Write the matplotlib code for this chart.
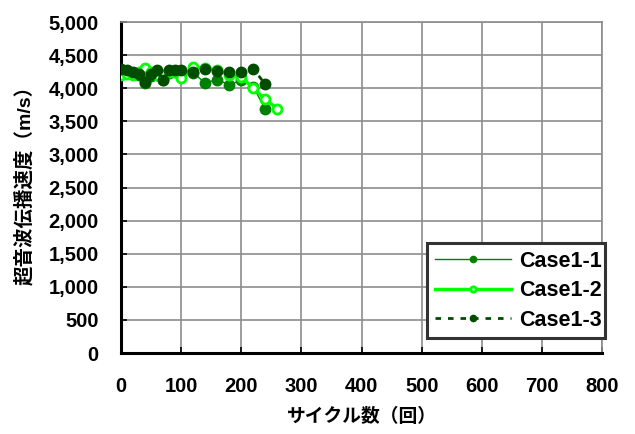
import matplotlib
matplotlib.use("Agg")
import matplotlib.pyplot as plt
from matplotlib.ticker import FuncFormatter, MultipleLocator

plt.rcParams['font.family'] = ['Liberation Sans', 'Noto Sans CJK JP']
plt.rcParams['font.weight'] = 'bold'

# Cycle counts and ultrasonic pulse velocity (m/s) for each case
cycles_1 = [0, 10, 20, 30, 40, 50, 60, 70, 80, 90, 100, 120, 140, 160, 180, 200, 220, 240]
case1_1 = [4250, 4240, 4220, 4200, 4080, 4180, 4200, 4120, 4230, 4250, 4200, 4230,
           4080, 4130, 4050, 4120, 4020, 3680]

cycles_2 = [0, 10, 20, 30, 40, 50, 60, 70, 80, 90, 100, 120, 140, 160, 180, 200, 220, 240, 260]
case1_2 = [4200, 4220, 4200, 4250, 4300, 4250, 4200, 4200, 4250, 4250, 4160, 4320,
           4300, 4280, 4200, 4170, 4000, 3830, 3690]

cycles_3 = [0, 10, 20, 30, 40, 50, 60, 70, 80, 90, 100, 120, 140, 160, 180, 200, 220, 240]
case1_3 = [4290, 4270, 4250, 4220, 4100, 4220, 4270, 4120, 4270, 4280, 4280, 4250,
           4290, 4260, 4250, 4250, 4290, 4060]

labels = ['Case1-1', 'Case1-2', 'Case1-3']
xlabel = 'サイクル数（回）'
ylabel = '超音波伝播速度（m/s）'

fig = plt.figure(figsize=(6.35, 4.34), dpi=100)
ax = fig.add_axes([0.1906, 0.1866, 0.7575, 0.7627])

ax.plot(cycles_1, case1_1, color='#008000', lw=1.0, marker='o', ms=7.5,
        mfc='#008000', mec='#008000', label=labels[0], zorder=3)
ax.plot(cycles_2, case1_2, color='#00ff00', lw=2.5, marker='o', ms=6.5,
        mfc='white', mec='#00ff00', mew=2, label=labels[1], zorder=4)
ax.plot(cycles_3, case1_3, color='#004d00', lw=2.0, ls=(0, (2, 2.5)), marker='o', ms=7.5,
        mfc='#004d00', mec='#004d00', label=labels[2], zorder=5)

ax.set_xlim(0, 800)
ax.set_ylim(0, 5000)
ax.xaxis.set_major_locator(MultipleLocator(100))
ax.yaxis.set_major_locator(MultipleLocator(500))
ax.yaxis.set_major_formatter(FuncFormatter(lambda v, p: f'{int(v):,}'))

ax.grid(True, color='#8c8c8c', lw=1.2)
ax.set_axisbelow(True)
for side in ('top', 'right'):
    ax.spines[side].set_color('#8c8c8c')
    ax.spines[side].set_linewidth(1.2)
for side in ('left', 'bottom'):
    ax.spines[side].set_color('black')
    ax.spines[side].set_linewidth(2.2)

ax.tick_params(direction='in', length=4, width=1.2, color='black',
               labelsize=14.5)
ax.tick_params(axis='y', pad=16)
ax.tick_params(axis='x', pad=17)
for t in ax.get_xticklabels() + ax.get_yticklabels():
    t.set_fontweight('bold')

ax.set_xlabel(xlabel, fontsize=13.5, fontweight='bold', labelpad=9)
ax.set_ylabel(ylabel, fontsize=14, fontweight='bold')
ax.yaxis.set_label_coords(-0.18, 0.52)

leg = ax.legend(loc='upper left', bbox_to_anchor=(0.6724, 0.2235, 0.2803, 0.2165),
                bbox_transform=fig.transFigure, mode='expand', borderaxespad=0,
                fontsize=15.5, frameon=True, fancybox=False, handlelength=3.55,
                markerscale=0.6, borderpad=0.35, labelspacing=0.4, handletextpad=0.4)
leg.get_frame().set_edgecolor('#333333')
leg.get_frame().set_linewidth(2.2)
leg.get_frame().set_facecolor('white')
leg.get_frame().set_alpha(1)
for t in leg.get_texts():
    t.set_fontweight('bold')

fig.savefig('out.png', dpi=100)
